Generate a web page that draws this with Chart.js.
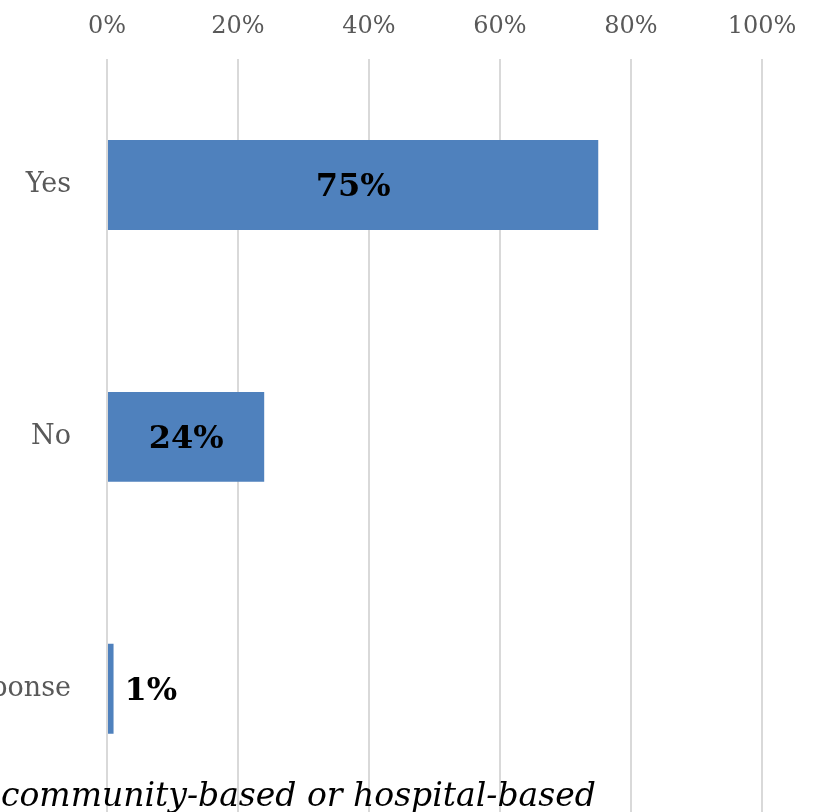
<!DOCTYPE html>
<html>
<head>
<meta charset="utf-8">
<script src="https://cdn.jsdelivr.net/npm/chart.js@4"></script>
<style>
    html, body { margin: 0; padding: 0; background: #fff; overflow: hidden; }
    #wrap { position: relative; width: 816px; height: 812px; overflow: hidden; }
    #caption {
        position: absolute; left: 1px; top: 775px;
        font-family: "DejaVu Serif", serif; font-style: italic;
        font-size: 33px; color: #000; white-space: nowrap;
    }
</style>
</head>
<body>
<div id="wrap">
    <canvas id="barChart" width="816" height="867"></canvas>
    <div id="caption">community-based or hospital-based</div>
</div>
<script>
// Data
const categories = ['Yes', 'No', 'No response'];
const shares = [75, 24, 1];
const tickValues = [0, 20, 40, 60, 80, 100];

const FONT = '"DejaVu Serif", serif';

// Draw value labels: inside the bar if it's wide enough, otherwise just right of it
const valueLabels = {
    id: 'valueLabels',
    afterDatasetsDraw(chart) {
        const ctx = chart.ctx;
        const meta = chart.getDatasetMeta(0);
        ctx.save();
        ctx.font = 'bold 32px ' + FONT;
        ctx.fillStyle = '#000';
        ctx.textBaseline = 'middle';
        meta.data.forEach((bar, i) => {
            const text = shares[i] + '%';
            const w = bar.x - bar.base;
            if (w > ctx.measureText(text).width + 20) {
                ctx.textAlign = 'center';
                ctx.fillText(text, (bar.x + bar.base) / 2, bar.y + 3);
            } else {
                ctx.textAlign = 'left';
                ctx.fillText(text, bar.x + 11, bar.y + 3);
            }
        });
        ctx.restore();
    }
};

const ctxBar = document.getElementById('barChart').getContext('2d');
new Chart(ctxBar, {
    type: 'bar',
    data: {
        labels: categories,
        datasets: [{
            data: shares,
            backgroundColor: '#4f81bd',
            borderWidth: 0,
            categoryPercentage: 1,
            barPercentage: 0.357
        }]
    },
    plugins: [valueLabels],
    options: {
        indexAxis: 'y',
        responsive: false,
        animation: false,
        devicePixelRatio: 1,
        layout: { padding: { right: 54, bottom: 0, left: 0, top: 0 } },
        plugins: { legend: { display: false }, tooltip: { enabled: false } },
        scales: {
            x: {
                position: 'top',
                min: 0,
                max: 100,
                afterBuildTicks: (scale) => { scale.ticks = tickValues.map(v => ({ value: v })); },
                afterFit: (scale) => { scale.height = 59; },
                ticks: {
                    padding: 18,
                    color: '#595959',
                    font: { family: FONT, size: 24 },
                    callback: (v) => v + '%'
                },
                grid: { color: '#d9d9d9', lineWidth: 2, drawTicks: false },
                border: { display: false }
            },
            y: {
                afterFit: (scale) => { scale.width = 107; },
                ticks: {
                    padding: 36,
                    color: '#595959',
                    font: { family: FONT, size: 27 }
                },
                grid: { display: false, drawTicks: false },
                border: { display: false }
            }
        }
    }
});
</script>
</body>
</html>
